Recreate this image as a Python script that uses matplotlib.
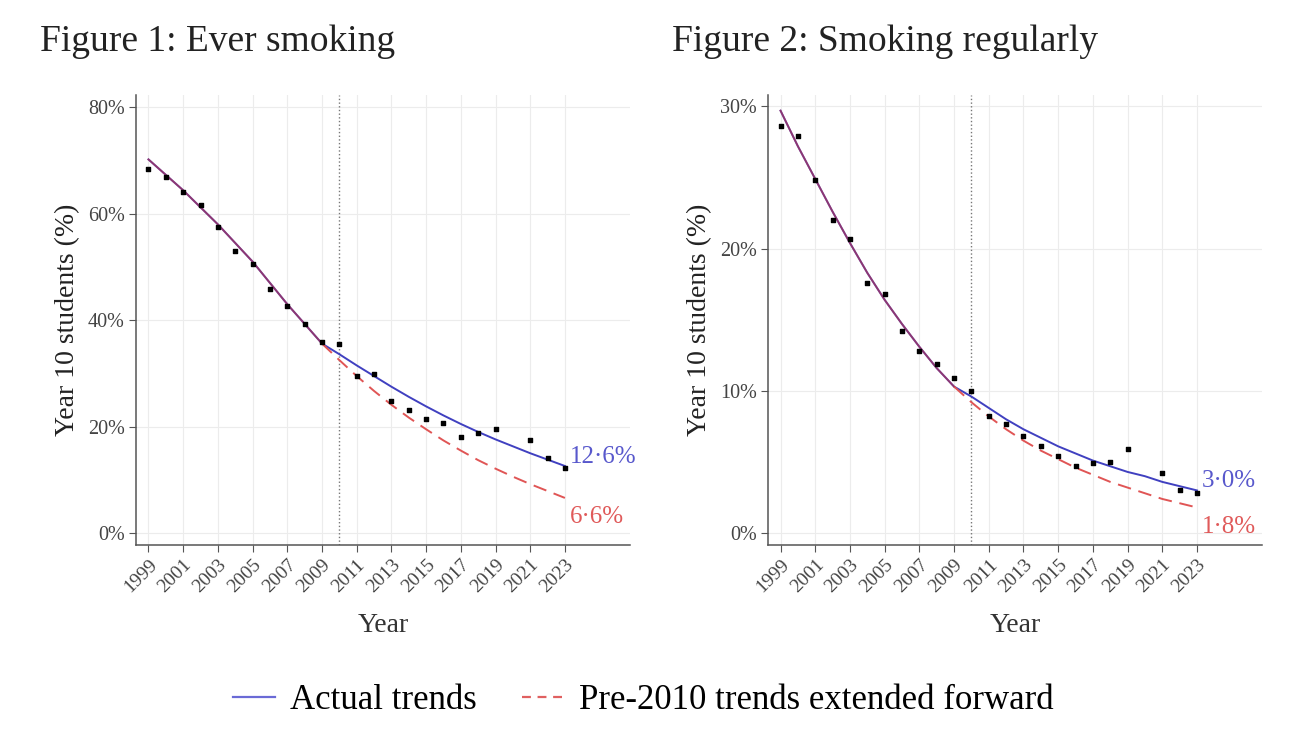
import matplotlib.pyplot as plt
import numpy as np
from matplotlib.lines import Line2D

plt.rcParams['font.family'] = ['Liberation Serif', 'DejaVu Serif']

years = np.arange(1999, 2024)
obs_years = [y for y in years if y != 2020]

# Figure 1: ever smoking (observed %)
ever_obs = [68.4, 66.9, 64.1, 61.6, 57.5, 53.0, 50.5, 45.9, 42.6, 39.2, 35.9, 35.6,
            29.6, 29.8, 24.8, 23.1, 21.4, 20.6, 18.0, 18.8, 19.5, 17.5, 14.1, 12.3]
ever_actual = [70.2, 67.3, 64.4, 61.2, 58.0, 54.5, 51.0, 47.0, 43.0, 39.3, 35.6,
               33.6, 31.5, 29.5, 27.5, 25.6, 23.8, 22.1, 20.5, 19.0, 17.6, 16.3, 15.0, 13.8, 12.6]
ever_pre = [70.2, 67.3, 64.4, 61.2, 58.0, 54.5, 51.0, 47.0, 43.0, 39.3, 35.6,
            32.5, 29.5, 26.7, 24.1, 21.7, 19.5, 17.4, 15.5, 13.7, 12.1, 10.6, 9.2, 7.9, 6.6]

# Figure 2: smoking regularly
reg_obs = [28.6, 27.9, 24.8, 22.0, 20.7, 17.6, 16.8, 14.2, 12.8, 11.9, 10.9, 10.0,
           8.2, 7.7, 6.8, 6.1, 5.4, 4.7, 4.9, 5.0, 5.9, 4.2, 3.0, 2.8]
reg_actual = [29.7, 27.2, 24.9, 22.6, 20.4, 18.3, 16.4, 14.7, 13.1, 11.6, 10.3,
              9.6, 8.8, 8.0, 7.3, 6.7, 6.1, 5.6, 5.1, 4.7, 4.3, 4.0, 3.6, 3.3, 3.0]
reg_pre = [29.7, 27.2, 24.9, 22.6, 20.4, 18.3, 16.4, 14.7, 13.1, 11.6, 10.3,
           9.2, 8.2, 7.3, 6.5, 5.8, 5.2, 4.6, 4.1, 3.6, 3.2, 2.8, 2.4, 2.1, 1.8]

blue = '#4040c0'
red = '#e05555'

fig = plt.figure(figsize=(13, 7.31), dpi=100)

panels = [
    dict(rect=[0.1046, 0.2544, 0.380, 0.6156], title='Figure 1: Ever smoking',
         obs=ever_obs, act=ever_actual, pre=ever_pre, ylim=(-2.25, 82.3),
         yticks=[0, 20, 40, 60, 80], lab_act='12·6%', lab_pre='6·6%',
         lab_y=(14.3, 3.0)),
    dict(rect=[0.5908, 0.2544, 0.380, 0.6156], title='Figure 2: Smoking regularly',
         obs=reg_obs, act=reg_actual, pre=reg_pre, ylim=(-0.84, 30.8),
         yticks=[0, 10, 20, 30], lab_act='3·0%', lab_pre='1·8%',
         lab_y=(3.66, 0.4)),
]

for i, p in enumerate(panels):
    ax = fig.add_axes(p['rect'])
    ax.set_xlim(1998.28, 2026.75)
    ax.set_ylim(*p['ylim'])
    ax.set_xticks(years[::2])
    ax.set_xticklabels([str(y) for y in years[::2]], rotation=45, ha='right',
                       rotation_mode='anchor', fontsize=14, color='#444444')
    ax.set_yticks(p['yticks'])
    ax.set_yticklabels([f'{v}%' for v in p['yticks']], fontsize=14.5, color='#444444')
    ax.grid(True, color='#ececec', linewidth=0.8)
    ax.set_axisbelow(True)
    for s in ['top', 'right']:
        ax.spines[s].set_visible(False)
    for s in ['left', 'bottom']:
        ax.spines[s].set_color('#555555')
        ax.spines[s].set_linewidth(1.1)
    ax.tick_params(length=5, color='#555555', pad=3)

    ax.axvline(2010, color='#777777', linestyle=':', linewidth=1)

    pre = np.array(p['pre'])
    act = np.array(p['act'])
    ax.plot(years, act, color=blue, linewidth=1.4, zorder=3)
    ax.plot(years[:11], pre[:11], color='#c03040', linewidth=1.4, alpha=0.6, zorder=4)
    ax.plot(years[10:], pre[10:], color=red, linewidth=1.4, linestyle=(0, (7, 4)), zorder=3)
    ax.scatter(obs_years, p['obs'], s=12, color='black', marker='s', zorder=5)

    ax.text(2023.3, p['lab_y'][0], p['lab_act'], color='#5858cc', fontsize=18,
            va='center', ha='left')
    ax.text(2023.3, p['lab_y'][1], p['lab_pre'], color='#e05a5a', fontsize=18,
            va='center', ha='left')

    ax.set_xlabel('Year', fontsize=20, color='#333333', labelpad=12)
    ax.set_ylabel('Year 10 students (%)', fontsize=20, color='#222222', labelpad=6)

fig.text(0.031, 0.93, 'Figure 1: Ever smoking', fontsize=27, color='#222222')
fig.text(0.517, 0.93, 'Figure 2: Smoking regularly', fontsize=27, color='#222222')

handles = [Line2D([], [], color='#6a6ad6', linewidth=1.6),
           Line2D([], [], color='#e06060', linewidth=1.6, linestyle=(0, (4, 3)))]
fig.legend(handles, ['Actual trends', 'Pre-2010 trends extended forward'],
           loc='center', bbox_to_anchor=(0.495, 0.042), ncol=2, frameon=False,
           fontsize=25, handlelength=1.2, columnspacing=1.3, handletextpad=0.45)

fig.savefig('out.png', dpi=100, facecolor='white')
